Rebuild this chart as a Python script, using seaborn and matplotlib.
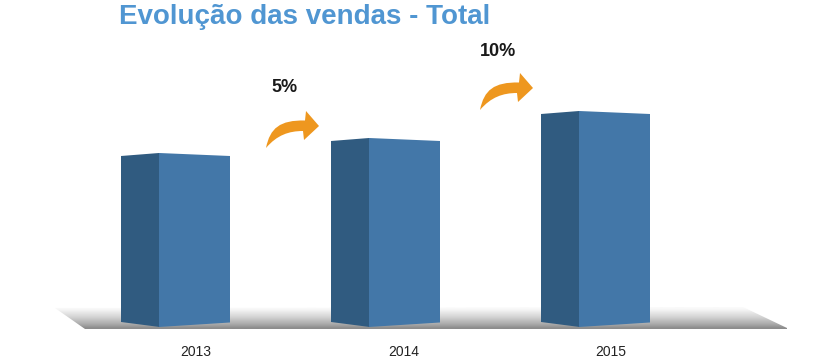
import numpy as np
import pandas as pd
import matplotlib
matplotlib.use('Agg')
import matplotlib.pyplot as plt
import seaborn as sns
from matplotlib.patches import PathPatch, Polygon
from matplotlib.path import Path
from matplotlib.transforms import Affine2D

years = ['2013', '2014', '2015']
vendas = [174, 189, 216]
growth_labels = ['5%', '10%']

W, H = 837, 358
front_color = '#4377a8'
side_color = '#305b80'
orange = '#ee971f'

sns.set_theme(style='white')
plt.rcParams['font.family'] = ['Liberation Sans', 'DejaVu Sans']

fig = plt.figure(figsize=(W / 100, H / 100), dpi=100)
ax = fig.add_axes([0, 20 / H, 1, 338 / H])
fig.patch.set_facecolor('white')

# pixel coordinates of the picture, for the decoration around the bars
px = Affine2D().scale(1 / W, -1 / H).translate(0, 1) + fig.transFigure

df = pd.DataFrame({'ano': years, 'vendas': vendas})
sns.barplot(data=df, x='ano', y='vendas', color=front_color, saturation=1,
            width=71 / 210, edgecolor='none', linewidth=0, ax=ax, zorder=3)

ax.set_xlabel('')
ax.set_ylabel('')
ax.set_yticks([])
ax.set_xticks([0.005, 0.995, 1.98])
ax.set_xticklabels(years, fontsize=10, color='#222222')
ax.tick_params(axis='x', length=0, pad=5)
ax.patch.set_alpha(0)
sns.despine(ax=ax, left=True, bottom=True)

# floor with vertical gray gradient
floor = Polygon([(55, 308), (743, 307), (787, 328), (787, 329), (85, 329)],
                closed=True, transform=px, facecolor='none', edgecolor='none')
ax.add_patch(floor)
grad = np.array([[0.98], [0.95], [0.91], [0.87], [0.83], [0.78], [0.73], [0.68], [0.62], [0.55]])
im = ax.imshow(grad, cmap='gray', vmin=0, vmax=1, aspect='auto', zorder=1,
               extent=(40, 800, 329, 307), transform=px, interpolation='bilinear')
im.set_clip_path(floor)
ax.set_xlim(-194.5 / 210, (W - 194.5) / 210)
ax.set_ylim(-11, 327)

# 3d look: side face and slanted top/bottom built on each seaborn bar
depth = 38 / 210
for bar in ax.patches[:len(years)]:
    x0, x1 = bar.get_x(), bar.get_x() + bar.get_width()
    h = bar.get_height()
    bar.set_y(5)
    bar.set_height(h - 8)
    ax.add_patch(Polygon([(x0 - depth, h - 3), (x0, h), (x0 + 0.003, 0), (x0 - depth, 5)],
                         closed=True, facecolor=side_color, edgecolor='none', zorder=3))
    ax.add_patch(Polygon([(x0, h), (x1, h - 3), (x1, 4.5), (x0, 0)], closed=True,
                         facecolor=front_color, edgecolor='none', zorder=3.5))

# orange curved arrows
codes = [Path.MOVETO, Path.CURVE4, Path.CURVE4, Path.CURVE4, Path.LINETO, Path.LINETO,
         Path.LINETO, Path.LINETO, Path.CURVE4, Path.CURVE4, Path.CURVE4, Path.CLOSEPOLY]
arrow = np.array([(266, 148), (270, 128), (280, 120), (305, 120.5), (306, 111), (319, 126),
                  (304, 140), (303, 131), (289, 131), (277, 135), (266, 148), (266, 148)], float)
for off, txt, pos in zip([(0, 0), (214, -38)], growth_labels, [(285, 87), (498, 52)]):
    ax.add_patch(PathPatch(Path(arrow + off, codes), transform=px, facecolor=orange,
                           edgecolor='none', zorder=4, clip_on=False))
    ax.text(pos[0], pos[1], txt, transform=px, ha='center', va='center',
            fontsize=13, fontweight='bold', color='#1a1a1a')

ax.text(119, 24, 'Evolução das vendas - Total', transform=px, ha='left', va='baseline',
        fontsize=20, fontweight='bold', color='#5096d2')

fig.savefig('out.png', dpi=100)
